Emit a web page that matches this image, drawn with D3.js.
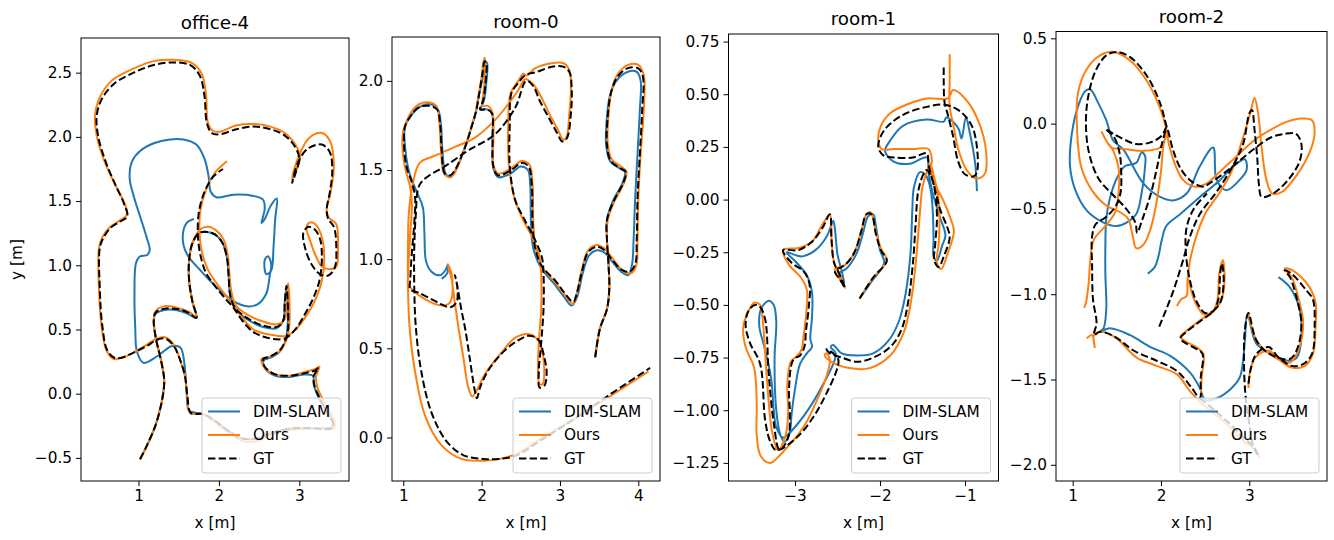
<!DOCTYPE html>
<html>
<head>
<meta charset="utf-8">
<script src="https://cdn.jsdelivr.net/npm/d3@7"></script>
<style>
  body { margin: 0; background: #fff; }
  text { font-family: 'DejaVu Sans', sans-serif; fill: #000; }
</style>
</head>
<body>
<svg id="chart" width="1334" height="540"></svg>
<script>
/* global d3 */

const titles = ['office-4', 'room-0', 'room-1', 'room-2']
const seriesNames = ['DIM-SLAM', 'Ours', 'GT']
const seriesColors = ['#1f77b4', '#ff7f0e', '#000000']

const xTicks = [[1, 2, 3], [1, 2, 3, 4], [-3, -2, -1], [1, 2, 3]]
const yTicks = [
  [-0.5, 0, 0.5, 1, 1.5, 2, 2.5],
  [0, 0.5, 1, 1.5, 2],
  [-1.25, -1, -0.75, -0.5, -0.25, 0, 0.25, 0.5, 0.75],
  [-2, -1.5, -1, -0.5, 0, 0.5]
]
const yFormats = ['.1f', '.1f', '.2f', '.1f']
const xDomains = [[0.285, 3.618], [0.856, 4.277], [-3.782, -0.606], [0.811, 3.88]]
const yDomains = [[-0.68, 2.77], [-0.244, 2.246], [-1.336, 0.786], [-2.095, 0.54]]

// trajectories: each series is a list of segments of [x, y] in metres
const office4DimSlam = [[
  [1.69, 1.36], [1.60, 1.33], [1.55, 1.22], [1.60, 1.09], [1.77, 0.96], [1.97, 0.83], [2.18, 0.72], [2.35, 0.68],
  [2.49, 0.70], [2.59, 0.78], [2.63, 0.91], [2.65, 1.01], [2.61, 1.07], [2.57, 1.04], [2.59, 0.93], [2.65, 0.96],
  [2.68, 1.15], [2.70, 1.36], [2.72, 1.52], [2.65, 1.47], [2.57, 1.36], [2.53, 1.33], [2.57, 1.44], [2.55, 1.51],
  [2.43, 1.54], [2.18, 1.55], [1.97, 1.53], [1.90, 1.57], [1.87, 1.70], [1.82, 1.83], [1.72, 1.94], [1.56, 1.98],
  [1.39, 1.98], [1.19, 1.95], [1.02, 1.89], [0.92, 1.81], [0.89, 1.68], [0.94, 1.54], [1.02, 1.38], [1.10, 1.22],
  [1.14, 1.12], [1.11, 1.08], [1.02, 1.07], [0.97, 1.02], [0.95, 0.78], [0.96, 0.51], [0.98, 0.33], [1.06, 0.24],
  [1.23, 0.29], [1.41, 0.37], [1.52, 0.36], [1.57, 0.24], [1.60, -0.01], [1.63, -0.13], [1.81, -0.16], [1.97, -0.22],
  [2.14, -0.30], [2.30, -0.35], [2.47, -0.35], [2.68, -0.30], [2.93, -0.27], [3.17, -0.27], [3.40, -0.26], [3.42, -0.23],
  [3.33, -0.13], [3.24, -0.03], [3.18, 0.07], [3.17, 0.14], [3.07, 0.15], [2.88, 0.13], [2.70, 0.14], [2.57, 0.20],
  [2.56, 0.26], [2.64, 0.28], [2.76, 0.33], [2.83, 0.42], [2.85, 0.50], [2.86, 0.66], [2.84, 0.82], [2.82, 0.72],
  [2.80, 0.57], [2.72, 0.51], [2.55, 0.52], [2.35, 0.58], [2.20, 0.66], [2.14, 0.77], [2.12, 0.93], [2.10, 1.06],
  [2.04, 1.18], [1.95, 1.24], [1.85, 1.26], [1.75, 1.25], [1.67, 1.17], [1.63, 1.04], [1.63, 0.88], [1.67, 0.72],
  [1.72, 0.59], [1.62, 0.62], [1.48, 0.65], [1.31, 0.65], [1.21, 0.62], [1.19, 0.56], [1.22, 0.42], [1.28, 0.26],
  [1.32, 0.10], [1.29, -0.06], [1.21, -0.25], [1.10, -0.41], [1.02, -0.51]
]]
const office4Ours = [[
  [1.02, -0.51], [1.10, -0.41], [1.21, -0.25], [1.29, -0.06], [1.32, 0.10], [1.28, 0.26], [1.22, 0.42], [1.19, 0.57],
  [1.21, 0.64], [1.31, 0.68], [1.48, 0.67], [1.62, 0.64], [1.72, 0.60], [1.67, 0.72], [1.63, 0.88], [1.63, 1.04],
  [1.68, 1.19], [1.77, 1.28], [1.87, 1.30], [1.97, 1.27], [2.06, 1.20], [2.11, 1.08], [2.13, 0.94], [2.16, 0.78],
  [2.22, 0.68], [2.37, 0.61], [2.56, 0.56], [2.72, 0.54], [2.82, 0.58], [2.84, 0.72], [2.86, 0.86], [2.88, 0.66],
  [2.87, 0.50], [2.84, 0.42], [2.77, 0.34], [2.64, 0.29], [2.53, 0.27], [2.57, 0.20], [2.70, 0.15], [2.88, 0.14],
  [3.07, 0.17], [3.19, 0.19], [3.25, 0.21], [3.21, 0.14], [3.22, 0.06], [3.28, -0.03], [3.37, -0.13], [3.44, -0.22],
  [3.43, -0.27], [3.18, -0.27], [2.93, -0.28], [2.68, -0.31], [2.47, -0.37], [2.30, -0.37], [2.14, -0.31], [1.97, -0.23],
  [1.81, -0.16], [1.64, -0.15], [1.61, -0.03], [1.58, 0.13], [1.52, 0.26], [1.43, 0.39], [1.33, 0.44], [1.23, 0.43],
  [1.10, 0.38], [0.94, 0.32], [0.79, 0.28], [0.69, 0.27], [0.60, 0.34], [0.54, 0.53], [0.51, 0.80], [0.51, 1.14],
  [0.56, 1.23], [0.65, 1.30], [0.77, 1.35], [0.86, 1.40], [0.82, 1.49], [0.70, 1.64], [0.57, 1.82], [0.48, 2.01],
  [0.46, 2.17], [0.52, 2.31], [0.67, 2.44], [0.93, 2.53], [1.19, 2.59], [1.43, 2.60], [1.65, 2.58], [1.78, 2.50],
  [1.84, 2.33], [1.86, 2.12], [1.92, 2.05], [2.01, 2.04], [2.22, 2.09], [2.43, 2.10], [2.64, 2.08], [2.82, 2.03],
  [2.96, 1.93], [3.01, 1.84], [2.97, 1.75], [2.91, 1.68], [3.00, 1.86], [3.12, 1.99], [3.28, 2.03], [3.38, 1.97],
  [3.43, 1.78], [3.39, 1.57], [3.34, 1.43], [3.37, 1.37], [3.46, 1.32], [3.48, 1.14], [3.46, 0.99], [3.38, 0.97],
  [3.28, 0.99], [3.20, 1.08], [3.13, 1.20], [3.09, 1.28], [3.12, 1.33], [3.20, 1.32], [3.28, 1.22], [3.31, 1.05],
  [3.28, 0.88], [3.19, 0.72], [3.09, 0.61], [2.97, 0.51], [2.84, 0.45], [2.64, 0.46], [2.43, 0.50], [2.28, 0.60],
  [2.18, 0.69], [2.08, 0.77], [1.96, 0.87], [1.86, 0.97], [1.79, 1.10], [1.76, 1.24], [1.77, 1.43], [1.84, 1.59],
  [1.95, 1.72], [2.10, 1.81]
]]
const office4Gt = [[
  [1.02, -0.51], [1.10, -0.41], [1.21, -0.25], [1.29, -0.06], [1.32, 0.10], [1.28, 0.26], [1.22, 0.42], [1.19, 0.56],
  [1.21, 0.63], [1.31, 0.66], [1.48, 0.66], [1.62, 0.63], [1.72, 0.59], [1.67, 0.72], [1.63, 0.88], [1.63, 1.04],
  [1.67, 1.17], [1.75, 1.25], [1.85, 1.26], [1.95, 1.24], [2.04, 1.18], [2.10, 1.06], [2.12, 0.93], [2.14, 0.77],
  [2.20, 0.67], [2.35, 0.59], [2.55, 0.53], [2.72, 0.52], [2.80, 0.57], [2.82, 0.72], [2.84, 0.84], [2.86, 0.66],
  [2.86, 0.50], [2.83, 0.42], [2.76, 0.34], [2.64, 0.29], [2.55, 0.27], [2.57, 0.21], [2.70, 0.15], [2.88, 0.14],
  [3.07, 0.16], [3.19, 0.18], [3.24, 0.20], [3.18, 0.14], [3.19, 0.06], [3.25, -0.03], [3.34, -0.14], [3.42, -0.23],
  [3.40, -0.27], [3.17, -0.27], [2.93, -0.27], [2.68, -0.30], [2.47, -0.35], [2.30, -0.35], [2.14, -0.30], [1.97, -0.22],
  [1.81, -0.16], [1.65, -0.15], [1.61, -0.03], [1.58, 0.13], [1.52, 0.26], [1.43, 0.38], [1.33, 0.43], [1.23, 0.42],
  [1.10, 0.37], [0.94, 0.32], [0.79, 0.28], [0.70, 0.28], [0.61, 0.34], [0.55, 0.53], [0.52, 0.80], [0.52, 1.14],
  [0.57, 1.22], [0.65, 1.29], [0.77, 1.34], [0.86, 1.38], [0.82, 1.48], [0.71, 1.63], [0.59, 1.81], [0.50, 2.00],
  [0.48, 2.16], [0.54, 2.29], [0.69, 2.41], [0.94, 2.50], [1.19, 2.56], [1.43, 2.58], [1.64, 2.56], [1.76, 2.48],
  [1.82, 2.32], [1.85, 2.11], [1.91, 2.03], [2.01, 2.02], [2.22, 2.06], [2.43, 2.08], [2.64, 2.06], [2.82, 2.01],
  [2.95, 1.92], [3.00, 1.83], [2.97, 1.75], [2.91, 1.64], [2.99, 1.81], [3.11, 1.91], [3.28, 1.94], [3.38, 1.88],
  [3.41, 1.73], [3.38, 1.57], [3.34, 1.43], [3.36, 1.36], [3.43, 1.30], [3.46, 1.14], [3.44, 0.98], [3.36, 0.92],
  [3.26, 0.93], [3.15, 1.01], [3.07, 1.14], [3.05, 1.25], [3.11, 1.30], [3.19, 1.28], [3.26, 1.20], [3.28, 1.04],
  [3.25, 0.88], [3.17, 0.74], [3.07, 0.62], [2.95, 0.50], [2.82, 0.43], [2.64, 0.43], [2.43, 0.48], [2.29, 0.57],
  [2.18, 0.67], [2.08, 0.74], [1.95, 0.84], [1.84, 0.94], [1.77, 1.08], [1.74, 1.22], [1.75, 1.41], [1.82, 1.57],
  [1.93, 1.69], [2.05, 1.75]
]]

const room0DimSlam = [[
  [3.45, 0.45], [3.51, 0.61], [3.60, 0.72], [3.63, 0.84], [3.62, 0.97], [3.60, 1.11], [3.60, 1.22], [3.67, 1.32],
  [3.80, 1.43], [3.83, 1.49], [3.76, 1.51], [3.64, 1.55], [3.59, 1.64], [3.60, 1.80], [3.64, 1.92], [3.72, 2.00],
  [3.86, 2.05], [3.98, 2.05], [4.03, 2.00], [4.02, 1.84], [3.99, 1.59], [3.96, 1.34], [3.94, 1.11], [3.92, 0.97],
  [3.87, 0.91], [3.78, 0.93], [3.66, 0.99], [3.56, 1.04], [3.47, 1.05], [3.37, 1.02], [3.29, 0.92], [3.22, 0.79],
  [3.15, 0.74], [3.05, 0.79], [2.93, 0.86], [2.76, 0.95], [2.66, 1.06], [2.63, 1.20], [2.62, 1.42], [2.59, 1.50],
  [2.50, 1.52], [2.37, 1.48], [2.21, 1.46], [2.15, 1.51], [2.14, 1.68], [2.13, 1.82], [2.07, 1.84], [1.99, 1.84],
  [2.03, 1.89], [2.06, 1.99], [2.07, 2.10], [2.05, 2.10], [2.02, 2.03], [1.97, 1.93], [1.93, 1.83], [1.87, 1.74],
  [1.79, 1.63], [1.67, 1.50], [1.60, 1.46], [1.54, 1.48], [1.50, 1.61], [1.48, 1.76], [1.44, 1.84], [1.33, 1.87],
  [1.20, 1.85], [1.09, 1.80], [1.02, 1.74], [1.03, 1.60], [1.08, 1.48], [1.17, 1.38], [1.25, 1.29], [1.27, 1.14],
  [1.29, 0.99], [1.36, 0.93], [1.47, 0.91], [1.54, 0.94], [1.57, 0.97], [1.56, 0.92], [1.49, 0.89]
]]
const room0Ours = [[
  [3.45, 0.45], [3.51, 0.61], [3.60, 0.72], [3.63, 0.84], [3.62, 0.97], [3.60, 1.11], [3.61, 1.22], [3.69, 1.32],
  [3.82, 1.43], [3.85, 1.49], [3.78, 1.52], [3.66, 1.56], [3.61, 1.65], [3.62, 1.81], [3.66, 1.95], [3.74, 2.04],
  [3.87, 2.09], [4.00, 2.09], [4.07, 2.03], [4.07, 1.84], [4.03, 1.59], [4.00, 1.34], [3.99, 1.11], [3.97, 0.96],
  [3.90, 0.92], [3.79, 0.94], [3.66, 1.01], [3.57, 1.06], [3.47, 1.08], [3.36, 1.05], [3.28, 0.94], [3.21, 0.80],
  [3.17, 0.75], [3.06, 0.80], [2.94, 0.87], [2.78, 0.95], [2.69, 1.06], [2.66, 1.20], [2.65, 1.42], [2.61, 1.53],
  [2.51, 1.55], [2.38, 1.51], [2.21, 1.48], [2.15, 1.53], [2.15, 1.68], [2.14, 1.82], [2.08, 1.86], [2.01, 1.86],
  [2.02, 1.92], [2.04, 2.02], [2.04, 2.13], [2.02, 2.10], [2.00, 2.02], [1.96, 1.92], [1.92, 1.82], [1.86, 1.73],
  [1.78, 1.62], [1.65, 1.48], [1.59, 1.46], [1.52, 1.48], [1.48, 1.62], [1.46, 1.77], [1.42, 1.86], [1.30, 1.88],
  [1.17, 1.86], [1.07, 1.80], [1.00, 1.72], [0.99, 1.62], [1.03, 1.50], [1.09, 1.40], [1.11, 1.30], [1.09, 1.15],
  [1.07, 1.00], [1.06, 0.89], [1.06, 0.86], [1.26, 0.78], [1.51, 0.74], [1.60, 0.76], [1.62, 0.91], [1.57, 0.97],
  [1.62, 0.88], [1.66, 0.75], [1.71, 0.60], [1.77, 0.44], [1.83, 0.28], [1.88, 0.23], [1.92, 0.25], [2.05, 0.36],
  [2.26, 0.48], [2.43, 0.56], [2.60, 0.58], [2.71, 0.55], [2.78, 0.47], [2.80, 0.36], [2.78, 0.30], [2.74, 0.30],
  [2.72, 0.38], [2.73, 0.53], [2.76, 0.72], [2.76, 0.92], [2.74, 1.01], [2.66, 1.11], [2.53, 1.22], [2.42, 1.34],
  [2.35, 1.52], [2.34, 1.76], [2.37, 1.93], [2.47, 2.00], [2.53, 2.04], [2.58, 2.03], [2.68, 2.07], [2.91, 2.10],
  [3.04, 2.10], [3.12, 2.06], [3.14, 1.95], [3.12, 1.82], [3.08, 1.68], [3.04, 1.67], [2.98, 1.72], [2.87, 1.81],
  [2.76, 1.91], [2.66, 1.98], [2.57, 2.01], [2.55, 2.01], [2.47, 1.95], [2.34, 1.87], [2.17, 1.78], [1.91, 1.68],
  [1.66, 1.63], [1.40, 1.58], [1.21, 1.54], [1.12, 1.42], [1.07, 1.25], [1.06, 1.06], [1.06, 0.85], [1.08, 0.62],
  [1.15, 0.37], [1.28, 0.12], [1.48, -0.04], [1.74, -0.12], [2.02, -0.13], [2.23, -0.12], [2.45, -0.09], [2.74, -0.01],
  [3.17, 0.10], [3.60, 0.22], [4.13, 0.37]
]]
const room0Gt = [[
  [3.45, 0.45], [3.51, 0.61], [3.60, 0.72], [3.63, 0.84], [3.62, 0.97], [3.60, 1.11], [3.60, 1.22], [3.68, 1.32],
  [3.81, 1.43], [3.84, 1.49], [3.77, 1.51], [3.65, 1.55], [3.60, 1.64], [3.61, 1.80], [3.65, 1.93], [3.73, 2.02],
  [3.86, 2.07], [4.00, 2.07], [4.06, 2.02], [4.05, 1.84], [4.02, 1.59], [3.99, 1.34], [3.98, 1.11], [3.96, 0.97],
  [3.89, 0.93], [3.79, 0.94], [3.66, 1.00], [3.57, 1.05], [3.47, 1.07], [3.36, 1.04], [3.28, 0.93], [3.21, 0.80],
  [3.17, 0.76], [3.06, 0.81], [2.94, 0.88], [2.77, 0.96], [2.68, 1.07], [2.65, 1.20], [2.64, 1.42], [2.60, 1.52],
  [2.51, 1.54], [2.38, 1.50], [2.21, 1.47], [2.15, 1.52], [2.14, 1.68], [2.13, 1.82], [2.06, 1.84], [1.98, 1.84],
  [2.02, 1.89], [2.05, 1.99], [2.06, 2.10], [2.04, 2.11], [2.01, 2.04], [1.97, 1.93], [1.93, 1.83], [1.87, 1.74],
  [1.79, 1.63], [1.66, 1.50], [1.60, 1.47], [1.53, 1.48], [1.49, 1.61], [1.47, 1.76], [1.43, 1.84], [1.32, 1.86],
  [1.19, 1.85], [1.09, 1.80], [1.02, 1.74], [1.01, 1.64], [1.04, 1.52], [1.11, 1.43], [1.15, 1.35], [1.14, 1.20],
  [1.11, 1.04], [1.09, 0.89], [1.09, 0.83], [1.21, 0.81], [1.43, 0.76], [1.60, 0.73], [1.68, 0.76], [1.69, 0.84],
  [1.66, 0.91], [1.69, 0.85], [1.74, 0.72], [1.79, 0.61], [1.85, 0.44], [1.91, 0.27], [1.94, 0.22], [1.98, 0.28],
  [2.09, 0.38], [2.30, 0.49], [2.45, 0.54], [2.60, 0.57], [2.72, 0.55], [2.80, 0.45], [2.83, 0.36], [2.80, 0.29],
  [2.74, 0.28], [2.73, 0.37], [2.76, 0.53], [2.79, 0.72], [2.79, 0.92], [2.77, 1.01], [2.68, 1.11], [2.55, 1.22],
  [2.43, 1.33], [2.36, 1.52], [2.36, 1.76], [2.38, 1.93], [2.47, 1.99], [2.55, 2.03], [2.70, 2.05], [2.91, 2.08],
  [3.04, 2.08], [3.12, 2.05], [3.15, 1.95], [3.14, 1.82], [3.09, 1.68], [3.03, 1.66], [2.96, 1.71], [2.85, 1.80],
  [2.74, 1.89], [2.66, 1.97], [2.57, 2.00], [2.43, 1.85], [2.17, 1.70], [1.83, 1.61], [1.53, 1.52], [1.30, 1.46],
  [1.20, 1.41], [1.16, 1.25], [1.14, 1.06], [1.14, 0.85], [1.16, 0.62], [1.23, 0.37], [1.36, 0.14], [1.55, -0.02],
  [1.77, -0.10], [2.02, -0.12], [2.23, -0.12], [2.45, -0.10], [2.74, -0.02], [3.17, 0.10], [3.60, 0.23], [4.15, 0.39]
]]

const room1DimSlam = [[
  [-2.24, -0.47], [-2.10, -0.39], [-1.95, -0.30], [-2.00, -0.24], [-2.05, -0.12], [-2.08, -0.07], [-2.14, -0.08],
  [-2.20, -0.16], [-2.28, -0.26], [-2.40, -0.33], [-2.48, -0.35], [-2.42, -0.40], [-2.45, -0.34], [-2.50, -0.26],
  [-2.53, -0.14], [-2.55, -0.10], [-2.62, -0.17], [-2.76, -0.24], [-2.92, -0.27], [-3.10, -0.25], [-2.98, -0.30],
  [-2.86, -0.36], [-2.80, -0.44], [-2.80, -0.56], [-2.82, -0.66], [-2.80, -0.70], [-2.86, -0.73], [-2.94, -0.78],
  [-3.00, -0.90], [-3.04, -1.02], [-3.06, -1.10], [-3.12, -1.15], [-3.17, -1.12], [-3.22, -1.00], [-3.24, -0.75],
  [-3.22, -0.58], [-3.25, -0.50], [-3.31, -0.48], [-3.40, -0.52], [-3.42, -0.60], [-3.36, -0.70], [-3.28, -0.85],
  [-3.25, -1.00], [-3.22, -1.08], [-3.14, -1.13], [-2.98, -1.07], [-2.80, -0.97], [-2.66, -0.87], [-2.55, -0.78],
  [-2.52, -0.73], [-2.58, -0.70], [-2.55, -0.69], [-2.45, -0.73], [-2.27, -0.74], [-2.08, -0.73], [-1.90, -0.67],
  [-1.78, -0.58], [-1.70, -0.45], [-1.64, -0.25], [-1.62, -0.05], [-1.60, 0.06], [-1.53, 0.13], [-1.47, 0.12],
  [-1.41, 0.06], [-1.38, -0.05], [-1.37, -0.19], [-1.37, -0.27], [-1.33, -0.29], [-1.27, -0.22], [-1.23, -0.17],
  [-1.29, -0.09], [-1.38, 0.03], [-1.43, 0.13], [-1.45, 0.20], [-1.65, 0.17], [-1.84, 0.18], [-1.94, 0.23],
  [-1.88, 0.28], [-1.73, 0.35], [-1.45, 0.38], [-1.25, 0.37], [-1.22, 0.39], [-1.08, 0.34], [-1.04, 0.29],
  [-0.99, 0.39], [-0.94, 0.31], [-0.88, 0.17], [-0.86, 0.04]
]]
const room1Ours = [[
  [-2.24, -0.47], [-2.08, -0.37], [-1.92, -0.29], [-1.99, -0.23], [-2.05, -0.15], [-2.11, -0.06], [-2.16, -0.07],
  [-2.22, -0.15], [-2.30, -0.25], [-2.41, -0.31], [-2.53, -0.33], [-2.47, -0.38], [-2.41, -0.42], [-2.47, -0.36],
  [-2.54, -0.30], [-2.57, -0.19], [-2.59, -0.07], [-2.68, -0.12], [-2.80, -0.20], [-2.96, -0.23], [-3.14, -0.24],
  [-3.07, -0.31], [-2.93, -0.37], [-2.86, -0.43], [-2.87, -0.55], [-2.90, -0.65], [-2.92, -0.71], [-2.97, -0.74],
  [-3.05, -0.77], [-3.09, -0.88], [-3.08, -1.00], [-3.11, -1.12], [-3.20, -1.19], [-3.27, -1.10], [-3.33, -0.85],
  [-3.38, -0.57], [-3.41, -0.50], [-3.48, -0.49], [-3.57, -0.55], [-3.61, -0.61], [-3.58, -0.70], [-3.48, -0.80],
  [-3.45, -0.97], [-3.45, -1.12], [-3.40, -1.22], [-3.29, -1.25], [-3.17, -1.21], [-2.90, -1.08], [-2.75, -0.96],
  [-2.63, -0.84], [-2.59, -0.76], [-2.63, -0.73], [-2.65, -0.74], [-2.57, -0.77], [-2.36, -0.80], [-2.12, -0.80],
  [-1.88, -0.74], [-1.72, -0.63], [-1.63, -0.47], [-1.57, -0.26], [-1.53, -0.06], [-1.50, 0.06], [-1.45, 0.13],
  [-1.41, 0.17], [-1.36, 0.10], [-1.32, 0.03], [-1.30, -0.09], [-1.31, -0.21], [-1.33, -0.30], [-1.28, -0.33],
  [-1.20, -0.25], [-1.13, -0.15], [-1.17, -0.09], [-1.26, 0.00], [-1.36, 0.08], [-1.40, 0.15], [-1.39, 0.19],
  [-1.43, 0.24], [-1.61, 0.24], [-1.84, 0.24], [-1.98, 0.24], [-2.02, 0.28], [-1.99, 0.35], [-1.88, 0.41],
  [-1.69, 0.45], [-1.45, 0.48], [-1.20, 0.48], [-1.14, 0.52], [-1.00, 0.48], [-0.84, 0.37], [-0.75, 0.22],
  [-0.77, 0.12], [-0.87, 0.10], [-0.98, 0.14], [-1.08, 0.24], [-1.14, 0.36], [-1.18, 0.44], [-1.18, 0.58], [-1.18, 0.69]
]]
const room1Gt = [[
  [-2.24, -0.47], [-2.08, -0.37], [-1.92, -0.29], [-1.99, -0.24], [-2.05, -0.16], [-2.10, -0.07], [-2.16, -0.07],
  [-2.22, -0.15], [-2.30, -0.25], [-2.41, -0.31], [-2.53, -0.34], [-2.47, -0.38], [-2.41, -0.42], [-2.47, -0.36],
  [-2.54, -0.30], [-2.57, -0.19], [-2.59, -0.07], [-2.67, -0.13], [-2.80, -0.20], [-2.96, -0.24], [-3.14, -0.24],
  [-3.04, -0.30], [-2.90, -0.34], [-2.83, -0.40], [-2.84, -0.52], [-2.87, -0.62], [-2.89, -0.70], [-2.94, -0.74],
  [-3.02, -0.76], [-3.07, -0.90], [-3.06, -1.02], [-3.08, -1.13], [-3.18, -1.19], [-3.25, -1.06], [-3.31, -0.82],
  [-3.35, -0.57], [-3.41, -0.51], [-3.47, -0.50], [-3.55, -0.53], [-3.58, -0.60], [-3.53, -0.68], [-3.41, -0.78],
  [-3.35, -1.05], [-3.29, -1.15], [-3.22, -1.19], [-2.98, -1.13], [-2.78, -1.03], [-2.63, -0.92], [-2.51, -0.81],
  [-2.49, -0.76], [-2.55, -0.73], [-2.63, -0.71], [-2.59, -0.73], [-2.45, -0.75], [-2.27, -0.77], [-2.08, -0.75],
  [-1.88, -0.70], [-1.75, -0.62], [-1.67, -0.49], [-1.61, -0.29], [-1.58, -0.11], [-1.55, 0.04], [-1.49, 0.12],
  [-1.45, 0.14], [-1.39, 0.10], [-1.35, 0.03], [-1.33, -0.09], [-1.35, -0.21], [-1.36, -0.29], [-1.31, -0.32],
  [-1.25, -0.27], [-1.18, -0.18], [-1.21, -0.13], [-1.29, -0.05], [-1.36, 0.06], [-1.42, 0.15], [-1.43, 0.18],
  [-1.45, 0.22], [-1.61, 0.20], [-1.84, 0.20], [-1.96, 0.21], [-2.02, 0.25], [-1.98, 0.31], [-1.88, 0.36],
  [-1.69, 0.41], [-1.45, 0.44], [-1.24, 0.45], [-1.06, 0.42], [-0.92, 0.35], [-0.86, 0.25], [-0.86, 0.13],
  [-0.90, 0.11], [-1.00, 0.12], [-1.08, 0.18], [-1.14, 0.30], [-1.20, 0.40], [-1.24, 0.46], [-1.25, 0.55], [-1.25, 0.63]
]]

const room2DimSlam = [[
  [1.85, -0.88], [1.93, -0.84], [1.97, -0.78], [2.01, -0.68], [2.06, -0.60], [2.22, -0.53], [2.44, -0.43],
  [2.67, -0.33], [2.82, -0.25], [2.95, -0.21], [2.97, -0.27], [2.89, -0.33], [2.74, -0.39], [2.63, -0.33],
  [2.59, -0.14], [2.44, -0.25], [2.29, -0.41], [2.14, -0.45], [1.99, -0.43], [1.80, -0.35], [1.57, -0.15],
  [1.46, -0.10], [1.38, 0.02], [1.29, 0.12], [1.20, 0.20], [1.14, 0.19], [1.06, 0.10], [0.99, -0.06],
  [0.97, -0.25], [1.03, -0.39], [1.16, -0.51], [1.35, -0.58], [1.50, -0.60], [1.61, -0.58], [1.72, -0.53],
  [1.78, -0.41], [1.82, -0.25], [1.82, -0.19], [1.78, -0.17], [1.72, -0.23], [1.59, -0.25], [1.50, -0.32],
  [1.42, -0.44], [1.38, -0.56], [1.37, -0.72], [1.37, -0.88], [1.38, -1.09], [1.35, -1.20], [1.31, -1.22],
  [1.42, -1.20], [1.65, -1.24], [1.88, -1.31], [2.10, -1.36], [2.33, -1.46], [2.44, -1.55], [2.50, -1.62],
  [2.63, -1.61], [2.78, -1.56], [2.89, -1.49], [2.93, -1.39], [2.95, -1.27], [2.98, -1.12], [3.08, -1.29],
  [3.25, -1.35], [3.44, -1.39], [3.54, -1.37], [3.59, -1.25], [3.57, -1.09], [3.46, -0.96], [3.33, -0.90]
]]
const room2Ours = [
  [
    [2.18, -1.07], [2.23, -1.03], [2.29, -1.01], [2.30, -0.92], [2.33, -0.80], [2.40, -0.66], [2.51, -0.52],
    [2.67, -0.40], [2.80, -0.28], [2.93, -0.08], [3.01, 0.06], [3.06, 0.15], [3.10, 0.06], [3.14, -0.14],
    [3.19, -0.32], [3.26, -0.41], [3.37, -0.40], [3.54, -0.30], [3.69, -0.16], [3.74, -0.05], [3.71, 0.02],
    [3.59, 0.03], [3.42, 0.01], [3.23, -0.04], [3.05, -0.10], [2.86, -0.19], [2.67, -0.28], [2.52, -0.35],
    [2.38, -0.37], [2.25, -0.33], [2.16, -0.24], [2.09, -0.12], [2.06, -0.03], [1.99, 0.09], [1.84, 0.25],
    [1.65, 0.37], [1.46, 0.42], [1.31, 0.40], [1.16, 0.32], [1.06, 0.18], [1.05, -0.04], [1.10, -0.26],
    [1.23, -0.40], [1.38, -0.48], [1.54, -0.52], [1.63, -0.56], [1.68, -0.66], [1.72, -0.73], [1.80, -0.71],
    [1.88, -0.62], [1.95, -0.46], [2.00, -0.28], [2.03, -0.12], [2.06, -0.07], [1.99, -0.14], [1.80, -0.16],
    [1.61, -0.15], [1.44, -0.14], [1.37, -0.09], [1.33, -0.05], [1.38, -0.10], [1.46, -0.16], [1.52, -0.26],
    [1.52, -0.40], [1.48, -0.52], [1.37, -0.60], [1.24, -0.68], [1.20, -0.80], [1.18, -0.94], [1.15, -1.05],
    [1.13, -1.08]
  ],
  [
    [1.16, -1.26], [1.22, -1.24], [1.25, -1.31], [1.24, -1.24], [1.33, -1.22], [1.50, -1.26], [1.72, -1.37],
    [1.95, -1.42], [2.18, -1.47], [2.33, -1.57], [2.44, -1.63], [2.63, -1.71], [2.78, -1.78], [2.93, -1.86],
    [3.06, -1.91], [3.12, -1.96]
  ],
  [
    [2.45, -1.62], [2.46, -1.49], [2.48, -1.35], [2.40, -1.31], [2.29, -1.28], [2.22, -1.25], [2.30, -1.21],
    [2.45, -1.15], [2.58, -1.10], [2.68, -1.04], [2.72, -0.91], [2.70, -0.80], [2.66, -0.88], [2.64, -1.03],
    [2.58, -1.11], [2.49, -1.12], [2.39, -1.05], [2.31, -0.91]
  ],
  [
    [2.99, -1.11], [3.08, -1.27], [3.23, -1.35], [3.46, -1.40], [3.56, -1.32], [3.61, -1.17], [3.57, -1.05],
    [3.48, -0.90], [3.40, -0.85], [3.49, -0.86], [3.67, -0.95], [3.75, -1.05], [3.75, -1.19], [3.72, -1.35],
    [3.63, -1.42], [3.48, -1.43], [3.33, -1.38], [3.22, -1.33], [3.07, -1.37], [3.01, -1.45], [2.99, -1.55]
  ]
]
const room2Gt = [
  [
    [1.98, -1.19], [2.14, -0.98], [2.25, -0.80], [2.33, -0.66], [2.44, -0.53], [2.63, -0.40], [2.80, -0.26],
    [2.93, -0.12], [3.00, 0.06], [3.03, 0.08], [3.06, -0.04], [3.09, -0.20], [3.11, -0.36], [3.14, -0.43],
    [3.27, -0.41], [3.44, -0.33], [3.57, -0.22], [3.59, -0.12], [3.53, -0.06], [3.40, -0.06], [3.25, -0.08],
    [3.05, -0.15], [2.86, -0.23], [2.69, -0.30], [2.55, -0.35], [2.48, -0.37], [2.35, -0.34], [2.23, -0.27],
    [2.14, -0.16], [2.08, -0.04], [2.06, -0.01], [1.99, 0.12], [1.84, 0.28], [1.65, 0.39], [1.50, 0.42],
    [1.38, 0.40], [1.26, 0.31], [1.18, 0.17], [1.15, 0.02], [1.18, -0.16], [1.29, -0.32], [1.46, -0.42],
    [1.59, -0.49], [1.71, -0.58], [1.73, -0.64], [1.79, -0.56], [1.88, -0.42], [1.95, -0.27], [2.01, -0.12],
    [2.06, -0.02], [2.01, -0.07], [1.88, -0.11], [1.72, -0.12], [1.57, -0.09], [1.46, -0.06], [1.37, -0.03],
    [1.47, -0.08], [1.53, -0.17], [1.55, -0.29], [1.54, -0.41], [1.48, -0.49], [1.37, -0.55], [1.26, -0.59],
    [1.22, -0.66], [1.22, -0.84], [1.23, -1.03], [1.27, -1.17], [1.24, -1.24], [1.31, -1.22], [1.48, -1.25],
    [1.69, -1.33], [1.95, -1.39], [2.18, -1.45], [2.35, -1.55], [2.44, -1.61], [2.45, -1.49], [2.47, -1.35],
    [2.40, -1.32], [2.29, -1.29], [2.22, -1.26], [2.29, -1.22], [2.44, -1.16], [2.57, -1.11], [2.67, -1.05],
    [2.71, -0.92], [2.69, -0.82], [2.67, -0.88], [2.65, -1.03], [2.59, -1.10], [2.50, -1.11], [2.40, -1.04],
    [2.32, -0.90], [2.28, -0.74], [2.29, -0.61], [2.37, -0.50], [2.52, -0.41]
  ],
  [
    [2.44, -1.61], [2.63, -1.69], [2.78, -1.76], [2.93, -1.84], [3.06, -1.90], [3.10, -1.95], [3.04, -1.88],
    [3.01, -1.79], [2.96, -1.61], [2.94, -1.41], [2.95, -1.21], [2.99, -1.11], [3.08, -1.27], [3.23, -1.35],
    [3.46, -1.38], [3.55, -1.31], [3.59, -1.17], [3.55, -1.05], [3.46, -0.90], [3.40, -0.86], [3.48, -0.88],
    [3.65, -0.98], [3.72, -1.03], [3.74, -1.19], [3.71, -1.35], [3.61, -1.41], [3.48, -1.42], [3.33, -1.37],
    [3.22, -1.31], [3.08, -1.35], [3.02, -1.43], [2.99, -1.53]
  ]
]

const trajectories = [
  [office4DimSlam, office4Ours, office4Gt],
  [room0DimSlam, room0Ours, room0Gt],
  [room1DimSlam, room1Ours, room1Gt],
  [room2DimSlam, room2Ours, room2Gt]
]

// axes boxes in the 1334x540 picture
const frames = [
  { left: 81, right: 349, top: 38, bottom: 481 },
  { left: 392, right: 660, top: 37, bottom: 481 },
  { left: 728.5, right: 998.5, top: 34, bottom: 481 },
  { left: 1056, right: 1327, top: 31.5, bottom: 481 }
]

const font = 'DejaVu Sans'
const labelSize = 15.3
const titleSize = 18.3

function renderPanel (svg, i) {
  const f = frames[i]
  const x = d3.scaleLinear().domain(xDomains[i]).range([f.left, f.right])
  const y = d3.scaleLinear().domain(yDomains[i]).range([f.bottom, f.top])

  svg.append('clipPath').attr('id', `clip-${i}`)
    .append('rect')
    .attr('x', f.left).attr('y', f.top)
    .attr('width', f.right - f.left).attr('height', f.bottom - f.top)

  const line = d3.line()
    .x(d => x(d[0]))
    .y(d => y(d[1]))
    .curve(d3.curveCatmullRom.alpha(0.5))

  const plot = svg.append('g').attr('clip-path', `url(#clip-${i})`)
  trajectories[i].forEach((segments, s) => {
    segments.forEach(seg => {
      plot.append('path')
        .attr('d', line(seg))
        .attr('fill', 'none')
        .attr('stroke', seriesColors[s])
        .attr('stroke-width', 2)
        .attr('stroke-linejoin', 'round')
        .attr('stroke-dasharray', s === 2 ? '7.4,3.2' : null)
    })
  })

  const xAxis = svg.append('g')
    .attr('transform', `translate(0,${f.bottom})`)
    .call(d3.axisBottom(x).tickValues(xTicks[i]).tickFormat(d3.format('d')).tickSize(5).tickPadding(4))
  xAxis.select('.domain').remove()

  const yAxis = svg.append('g')
    .attr('transform', `translate(${f.left},0)`)
    .call(d3.axisLeft(y).tickValues(yTicks[i]).tickFormat(d3.format(yFormats[i])).tickSize(5).tickPadding(4))
  yAxis.select('.domain').remove()

  svg.selectAll('.tick text')
    .attr('font-family', font)
    .attr('font-size', labelSize)
    .attr('fill', '#000')

  svg.append('rect')
    .attr('x', f.left).attr('y', f.top)
    .attr('width', f.right - f.left).attr('height', f.bottom - f.top)
    .attr('fill', 'none').attr('stroke', '#000').attr('stroke-width', 1)

  svg.append('text')
    .attr('x', (f.left + f.right) / 2)
    .attr('y', f.top - 9)
    .attr('text-anchor', 'middle')
    .attr('font-size', titleSize)
    .text(titles[i])

  svg.append('text')
    .attr('x', (f.left + f.right) / 2)
    .attr('y', 528)
    .attr('text-anchor', 'middle')
    .attr('font-size', labelSize)
    .text('x [m]')

  // legend, lower right
  const lw = 139
  const lh = 75
  const legend = svg.append('g')
    .attr('transform', `translate(${f.right - 8 - lw},${f.bottom - 8 - lh})`)
  legend.append('rect')
    .attr('width', lw).attr('height', lh).attr('rx', 3)
    .attr('fill', '#fff').attr('fill-opacity', 0.8)
    .attr('stroke', '#cccccc').attr('stroke-width', 1)
  seriesNames.forEach((name, s) => {
    const ly = 13.5 + s * 23.5
    legend.append('line')
      .attr('x1', 6).attr('x2', 38).attr('y1', ly).attr('y2', ly)
      .attr('stroke', seriesColors[s]).attr('stroke-width', 2)
      .attr('stroke-dasharray', s === 2 ? '7.4,3.2' : null)
    legend.append('text')
      .attr('x', 51).attr('y', ly)
      .attr('dy', '0.35em')
      .attr('font-size', labelSize)
      .text(name)
  })
}

function init () {
  const svg = d3.select('#chart')
  svg.append('rect').attr('width', 1334).attr('height', 540).attr('fill', '#fff')
  titles.forEach((t, i) => renderPanel(svg, i))

  const f = frames[0]
  svg.append('text')
    .attr('transform', `translate(22,${(f.top + f.bottom) / 2}) rotate(-90)`)
    .attr('text-anchor', 'middle')
    .attr('font-size', labelSize)
    .text('y [m]')
}

init()
</script>
</body>
</html>
